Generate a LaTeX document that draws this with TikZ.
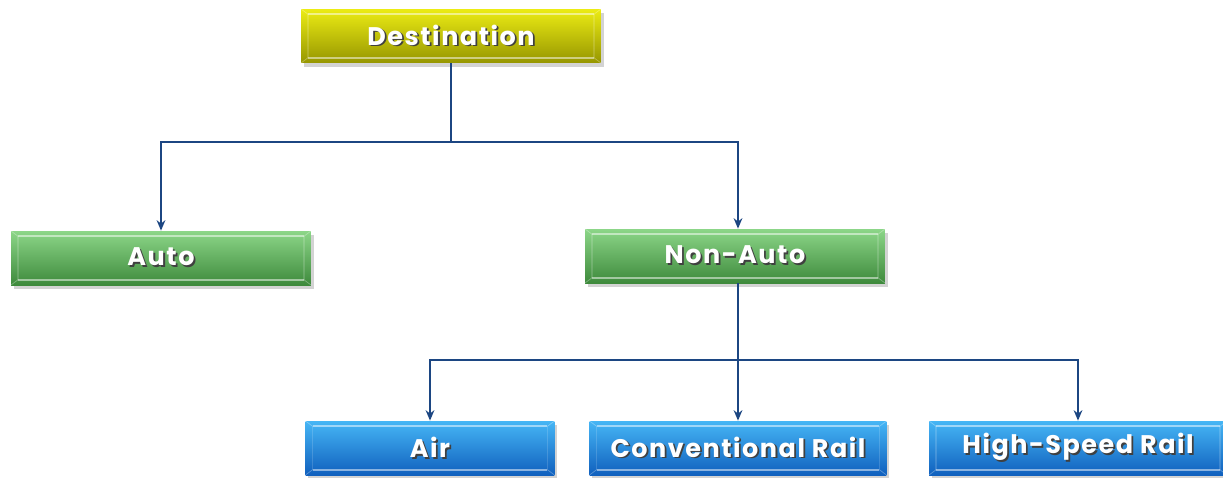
\documentclass[tikz,border=0pt]{standalone}
\usepackage{fontspec}
\setmainfont{Poppins}
\usetikzlibrary{arrows.meta}
\usetikzlibrary{shadows}

\definecolor{yellowtop}{RGB}{236,236,20}
\definecolor{yellowbot}{RGB}{150,150,0}
\definecolor{greentop}{RGB}{140,214,136}
\definecolor{greenbot}{RGB}{62,138,60}
\definecolor{bluetop}{RGB}{70,182,245}
\definecolor{bluebot}{RGB}{16,96,190}
\definecolor{linkblue}{RGB}{28,70,130}

\newcommand{\shadowtext}[1]{\makebox[0pt][l]{\kern1pt\raisebox{-1pt}{\textcolor{black!75}{#1}}}#1}

\tikzset{
  block/.style={minimum height=1.08cm, inner sep=0pt, text=white,
    font=\bfseries\fontsize{14.5}{16}\selectfont\addfontfeature{LetterSpace=6},
    drop shadow={opacity=0.35, shadow xshift=1.5pt, shadow yshift=-2.5pt},
    path picture={
      \draw[white, opacity=0.5, line width=1pt]
        ([xshift=4pt,yshift=-3pt]path picture bounding box.north west) --
        ([xshift=-4pt,yshift=-3pt]path picture bounding box.north east)
        ([xshift=4pt,yshift=3pt]path picture bounding box.south west) --
        ([xshift=-4pt,yshift=3pt]path picture bounding box.south east);
      \draw[white, opacity=0.15, line width=1pt]
        ([xshift=4pt,yshift=-3pt]path picture bounding box.north west) --
        ([xshift=4pt,yshift=3pt]path picture bounding box.south west)
        ([xshift=-4pt,yshift=-3pt]path picture bounding box.north east) --
        ([xshift=-4pt,yshift=3pt]path picture bounding box.south east);
      \draw[white, opacity=0.3]
        (path picture bounding box.north west) -- ([xshift=4pt,yshift=-3pt]path picture bounding box.north west)
        (path picture bounding box.north east) -- ([xshift=-4pt,yshift=-3pt]path picture bounding box.north east)
        (path picture bounding box.south west) -- ([xshift=4pt,yshift=3pt]path picture bounding box.south west)
        (path picture bounding box.south east) -- ([xshift=-4pt,yshift=3pt]path picture bounding box.south east);
    }},
  destblock/.style={block, top color=yellowtop, bottom color=yellowbot, minimum width=6.0cm},
  modeblock/.style={block, top color=greentop, bottom color=greenbot, minimum width=6.0cm},
  railblock/.style={block, top color=bluetop, bottom color=bluebot},
  link/.style={draw=linkblue, line width=0.8pt},
  arrowlink/.style={link, -{Stealth[length=6pt,width=5pt]}},
}

\begin{document}
\begin{tikzpicture}[x=0.02cm,y=-0.02cm]
\useasboundingbox (0,0) rectangle (1223,477);

% top level
\node[destblock] (dest) at (451,36) {\shadowtext{Destination}};

% second level
\node[modeblock] (auto) at (161,258) {\shadowtext{Auto}};
\node[modeblock] (nonauto) at (735,256) {\shadowtext{Non-Auto}};

% third level
\node[railblock, minimum width=4.98cm] (air) at (430,448) {\shadowtext{Air}};
\node[railblock, minimum width=5.94cm] (conv) at (738,448) {\shadowtext{Conventional Rail}};
\node[railblock, minimum width=5.96cm] (hsr) at (1078,448) {\shadowtext{High-Speed Rail}};

\coordinate (split1) at (451,142);
\coordinate (split2) at (738,360);

\draw[link] (dest) -- (split1);
\draw[arrowlink] (split1) -| (nonauto.north -| split2);
\draw[arrowlink] (split1) -| (auto);

\draw[link] (nonauto.south -| split2) -- (split2);
\draw[arrowlink] (split2) -| (air);
\draw[arrowlink] (split2) -- (conv);
\draw[arrowlink] (split2) -| (hsr);

\end{tikzpicture}
\end{document}
